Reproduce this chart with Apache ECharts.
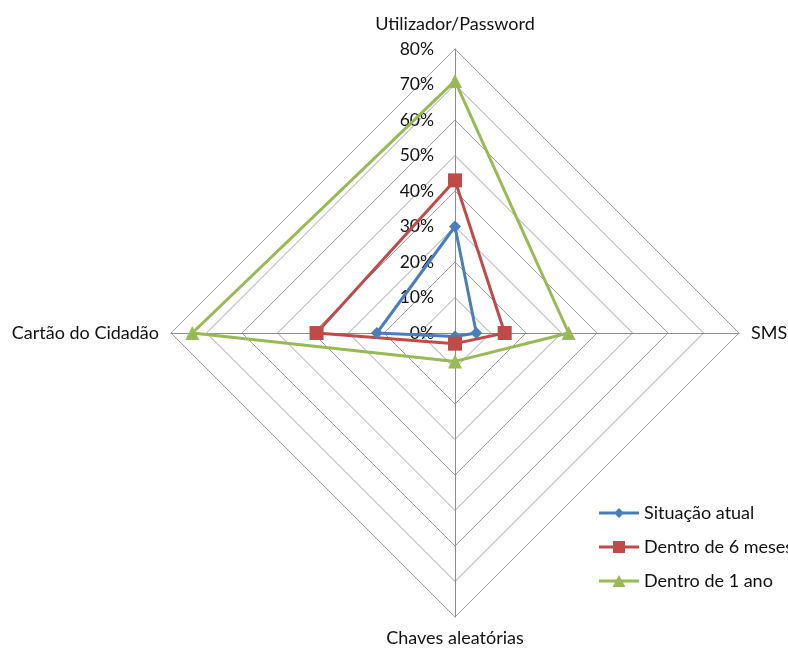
<!DOCTYPE html>
<html>
<head>
<meta charset="utf-8">
<script src="https://cdn.jsdelivr.net/npm/echarts@6/dist/echarts.min.js"></script>
<style>
  html, body { margin: 0; padding: 0; background: #fff; }
  #chart { width: 788px; height: 649px; }
</style>
</head>
<body>
<div id="chart"></div>
<script>
// Indicators in drawing order (ECharts radar runs counter-clockwise from the top)
const categories = ['Utilizador/Password', 'Cartão do Cidadão', 'Chaves aleatórias', 'SMS'];
const axisMax = 80;

// Percent values per indicator, same order as categories
const situacaoAtual = [30, 22, 1, 6];
const dentro6Meses  = [43, 39, 3, 14];
const dentro1Ano    = [71, 74, 8, 32];

const seriesNames = ['Situação atual', 'Dentro de 6 meses', 'Dentro de 1 ano'];
const colors = ['#4a7ebb', '#be4b48', '#98b954'];

const FONT = 'Lato';

// Legend glyphs: short line with the series marker in the middle
const legendIcons = [
  'path://M0 4.5H40V7.5H0Z M20 1L25 6L20 11L15 6Z',
  'path://M0 4.5H40V7.5H0Z M14 0H26V12H14Z',
  'path://M0 4.5H40V7.5H0Z M20 0L26.5 12L13.5 12Z'
];

const chart = echarts.init(document.getElementById('chart'), null, { renderer: 'canvas' });

const indicator = categories.map((name, i) => {
  const ind = { name: name, max: axisMax, min: 0 };
  if (i === 0) {
    // only the vertical axis carries the percent scale
    ind.nameGap = 16;
    ind.axisLabel = {
      show: true,
      formatter: v => v + '%'
    };
  }
  return ind;
});

chart.setOption({
  animation: false,
  backgroundColor: '#ffffff',
  legend: {
    orient: 'vertical',
    left: 594,
    top: 499,
    itemWidth: 40,
    itemHeight: 12,
    itemGap: 16,
    textStyle: { fontFamily: FONT, fontSize: 18, color: '#111' },
    data: seriesNames.map((n, i) => ({ name: n, icon: legendIcons[i] }))
  },
  radar: {
    center: [455, 333],
    radius: 284,
    startAngle: 90,
    shape: 'polygon',
    splitNumber: 8,
    indicator: indicator,
    nameGap: 12,
    axisName: { color: '#111', fontFamily: FONT, fontSize: 18 },
    axisLine: { lineStyle: { color: '#8c8c8c', width: 1 } },
    splitLine: { lineStyle: { color: '#a0a0a0', width: 1 } },
    splitArea: { show: false },
    axisTick: { show: false },
    axisLabel: {
      show: false,
      color: '#111',
      fontFamily: FONT,
      fontSize: 17.5,
      margin: 21
    }
  },
  series: [{
    type: 'radar',
    data: [
      { name: seriesNames[0], value: situacaoAtual, symbol: 'diamond', symbolSize: 12 },
      { name: seriesNames[1], value: dentro6Meses, symbol: 'rect', symbolSize: 14 },
      { name: seriesNames[2], value: dentro1Ano, symbol: 'triangle', symbolSize: 14 }
    ].map((d, i) => Object.assign(d, {
      lineStyle: { color: colors[i], width: 3 },
      itemStyle: { color: colors[i] }
    }))
  }]
});
</script>
</body>
</html>
